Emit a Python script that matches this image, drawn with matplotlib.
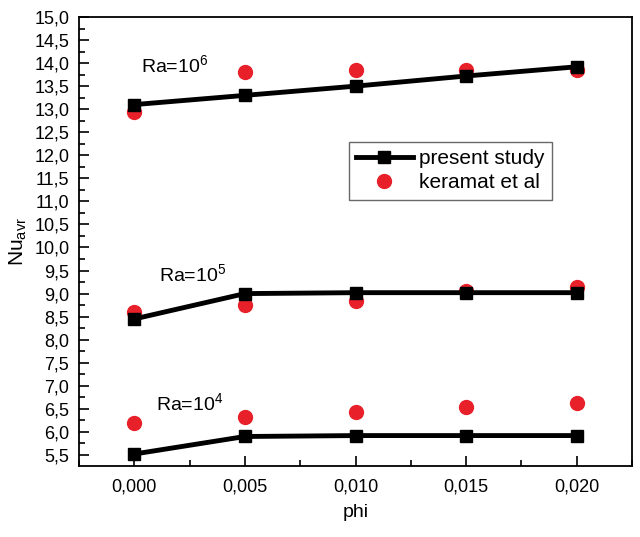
import matplotlib
matplotlib.use("Agg")
import matplotlib.pyplot as plt
from matplotlib.ticker import MultipleLocator, FuncFormatter

plt.rcParams['font.family'] = ['Liberation Sans', 'DejaVu Sans']
plt.rcParams['mathtext.fontset'] = 'custom'
plt.rcParams['mathtext.rm'] = 'Liberation Sans'

phi = [0.000, 0.005, 0.010, 0.015, 0.020]

# present study
nu_ra6 = [13.10, 13.30, 13.50, 13.72, 13.92]
nu_ra5 = [8.45, 9.00, 9.02, 9.02, 9.02]
nu_ra4 = [5.52, 5.90, 5.92, 5.92, 5.92]

# keramat et al
ker_ra6 = [12.95, 13.80, 13.85, 13.85, 13.85]
ker_ra5 = [8.60, 8.75, 8.85, 9.05, 9.15]
ker_ra4 = [6.20, 6.33, 6.43, 6.53, 6.63]

fig = plt.figure(figsize=(6.4, 5.37), dpi=100)
ax = fig.add_axes([79/640, 1 - 466/537, (632 - 79)/640, (466 - 17)/537])

for i, (nu, ker) in enumerate([(nu_ra6, ker_ra6), (nu_ra5, ker_ra5), (nu_ra4, ker_ra4)]):
    ax.plot(phi, ker, ls='none', marker='o', color='#e8202a', ms=10, zorder=2,
            label='keramat et al' if i == 0 else None)
    ax.plot(phi, nu, color='black', lw=3.5, marker='s', ms=9, zorder=3,
            label='present study' if i == 0 else None)

ax.text(0.0003, 13.79, r'Ra=10$^6$', fontsize=14)
ax.text(0.0011, 9.25, r'Ra=10$^5$', fontsize=14)
ax.text(0.0010, 6.45, r'Ra=10$^4$', fontsize=14)

ax.set_xlim(-0.0025, 0.0225)
ax.set_ylim(5.26, 15.0)
ax.xaxis.set_major_locator(MultipleLocator(0.005))
ax.xaxis.set_minor_locator(MultipleLocator(0.0025))
ax.yaxis.set_major_locator(MultipleLocator(0.5))
ax.yaxis.set_minor_locator(MultipleLocator(0.25))
ax.xaxis.set_major_formatter(FuncFormatter(lambda v, p: ('%.3f' % v).replace('.', ',')))
ax.yaxis.set_major_formatter(FuncFormatter(lambda v, p: ('%.1f' % v).replace('.', ',')))
ax.tick_params(direction='in', which='major', length=7, width=1.2, labelsize=13, pad=7)
ax.tick_params(axis='x', which='major', pad=9)
ax.tick_params(direction='in', which='minor', length=4, width=1.2)
for s in ax.spines.values():
    s.set_linewidth(1.3)

ax.set_xlabel('phi', fontsize=14, labelpad=6)
ax.set_ylabel(r'Nu$_{\mathrm{avr}}$', fontsize=15, labelpad=4)

handles, labels = ax.get_legend_handles_labels()
leg = ax.legend([handles[1], handles[0]], [labels[1], labels[0]],
                loc='upper left', bbox_to_anchor=((349 - 79)/553, 1 - (142 - 17)/449),
                borderaxespad=0, fontsize=15, frameon=True, fancybox=False,
                edgecolor='#444444', handlelength=2.7, borderpad=0.35,
                labelspacing=0.25, handletextpad=0.3)
leg.get_frame().set_linewidth(1.0)

fig.savefig('out.png', dpi=100)
